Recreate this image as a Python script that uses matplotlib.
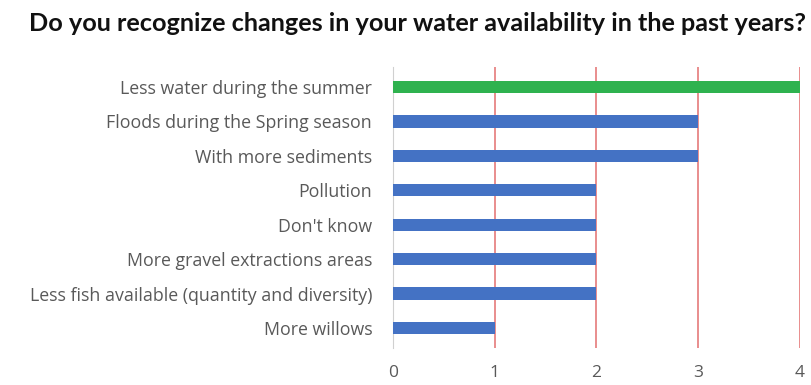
import matplotlib.pyplot as plt
import numpy as np

categories = [
    "Less water during the summer",
    "Floods during the Spring season",
    "With more sediments",
    "Pollution",
    "Don't know",
    "More gravel extractions areas",
    "Less fish available (quantity and diversity)",
    "More willows",
]
counts = [4, 3, 3, 2, 2, 2, 2, 1]
bar_colors = ["#2fb24f"] + ["#4472c4"] * 7
xticks = [0, 1, 2, 3, 4]

plt.rcParams["font.family"] = ["Lato", "DejaVu Sans"]

fig = plt.figure(figsize=(8.12, 3.85), dpi=100)
ax = fig.add_axes([0.484, 0.096, 0.501, 0.730])

y = np.arange(len(categories))
ax.barh(y, counts, height=0.36, color=bar_colors, zorder=3)

ax.set_xlim(0, 4)
ax.set_ylim(len(categories) - 1 + 0.58, -0.58)
ax.set_xticks(xticks)
ax.set_yticks(y)
ax.set_yticklabels(categories, fontsize=12.8, color="#595959", family="Open Sans")

# red vertical gridlines, grey axis line on the left
ax.grid(axis="x", color="#e57a7a", linewidth=1.2, zorder=0)
for s in ["top", "right", "bottom"]:
    ax.spines[s].set_visible(False)
ax.spines["left"].set_color("#d0d0d0")
ax.tick_params(axis="y", length=0, pad=15)
ax.tick_params(axis="x", length=0, pad=12, labelsize=12.5, labelcolor="#595959")
for t in ax.get_xticklabels():
    t.set_family("Open Sans")

fig.text(0.514, 0.94, "Do you recognize changes in your water availability in the past years?",
         ha="center", va="center", fontsize=18.2, fontweight="bold", color="#111111")

fig.savefig("out.png", dpi=100)
